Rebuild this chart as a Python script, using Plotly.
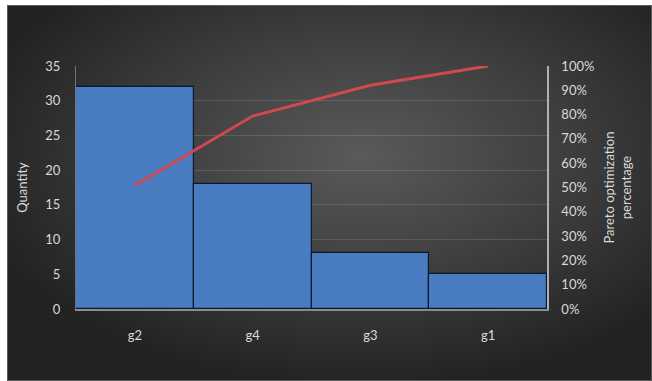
import base64
import plotly.graph_objects as go

# Pareto data
categories = ["g2", "g4", "g3", "g1"]
quantity = [32, 18, 8, 5]
cumulative_pct = [50.8, 79.4, 92.1, 100.0]

left_ticks = [0, 5, 10, 15, 20, 25, 30, 35]
right_ticks = [0, 10, 20, 30, 40, 50, 60, 70, 80, 90, 100]
right_labels = [f"{v}%" for v in right_ticks]

W, H = 652, 381
L, R, T, B = 76, 547, 66, 309  # plot area in pixels
pw, ph = R - L, B - T

TEXT = "#d9d9d9"
FONT = "Lato"
FS = 13

# dark radial backdrop as an inline SVG image
svg = (
    '<svg xmlns="http://www.w3.org/2000/svg" width="645" height="376" '
    'viewBox="0 0 645 376" preserveAspectRatio="none">'
    '<defs><radialGradient id="g" cx="55%" cy="40%" r="62%">'
    '<stop offset="0%" stop-color="#5a5a5a"/>'
    '<stop offset="55%" stop-color="#3c3c3c"/>'
    '<stop offset="100%" stop-color="#222222"/>'
    '</radialGradient></defs>'
    '<rect width="645" height="376" fill="url(#g)"/>'
    '<rect x="0.5" y="0.5" width="644" height="375" fill="none" stroke="#5a5a5a" stroke-width="1"/>'
    '</svg>'
)
svg_uri = "data:image/svg+xml;base64," + base64.b64encode(svg.encode()).decode()

bg_x0, bg_y0 = 7, 5
fig = go.Figure()

fig.add_trace(go.Bar(
    x=categories, y=quantity,
    marker=dict(color="#4a7cc1", line=dict(color="#0b1a33", width=1.2)),
    width=1.0, yaxis="y", showlegend=False,
))

fig.add_trace(go.Scatter(
    x=categories, y=cumulative_pct, mode="lines",
    line=dict(color="#d1494f", width=3),
    yaxis="y2", showlegend=False,
))

fig.update_layout(
    width=W, height=H,
    margin=dict(l=L, r=W - R, t=T, b=H - B, pad=0),
    paper_bgcolor="white",
    plot_bgcolor="rgba(0,0,0,0)",
    font=dict(family=FONT, size=FS, color=TEXT),
    bargap=0,
    images=[dict(
        source=svg_uri, xref="paper", yref="paper",
        x=(bg_x0 - L) / pw, y=(B - bg_y0) / ph,
        sizex=(W - bg_x0) / pw, sizey=(H - bg_y0) / ph,
        sizing="stretch", xanchor="left", yanchor="top", layer="below",
    )],
    xaxis=dict(
        type="category", range=[-0.5, 3.5],
        showgrid=False, showline=True, linecolor="#8c8c8c", linewidth=1.5,
        ticks="", ticklabelstandoff=14,
        tickfont=dict(family=FONT, size=FS, color=TEXT),
    ),
    yaxis=dict(
        range=[0, 35], tickvals=left_ticks,
        showgrid=True, gridcolor="rgba(255,255,255,0.13)", gridwidth=1,
        zeroline=False, showline=True, linecolor="rgba(200,200,200,0.45)", linewidth=1,
        ticks="", ticklabelstandoff=12,
        tickfont=dict(family=FONT, size=FS, color=TEXT),
        title=dict(text="Quantity", font=dict(family=FONT, size=FS, color=TEXT), standoff=14),
    ),
    yaxis2=dict(
        range=[0, 100], tickvals=right_ticks, ticktext=right_labels,
        overlaying="y", side="right",
        showgrid=False, zeroline=False,
        showline=True, linecolor="#b0b0b0", linewidth=1.5,
        ticks="", ticklabelstandoff=10,
        tickfont=dict(family=FONT, size=FS, color=TEXT),
        title=dict(text="Pareto optimization<br>percentage",
                   font=dict(family=FONT, size=FS, color=TEXT), standoff=12),
    ),
)

fig.write_html("out.html")
